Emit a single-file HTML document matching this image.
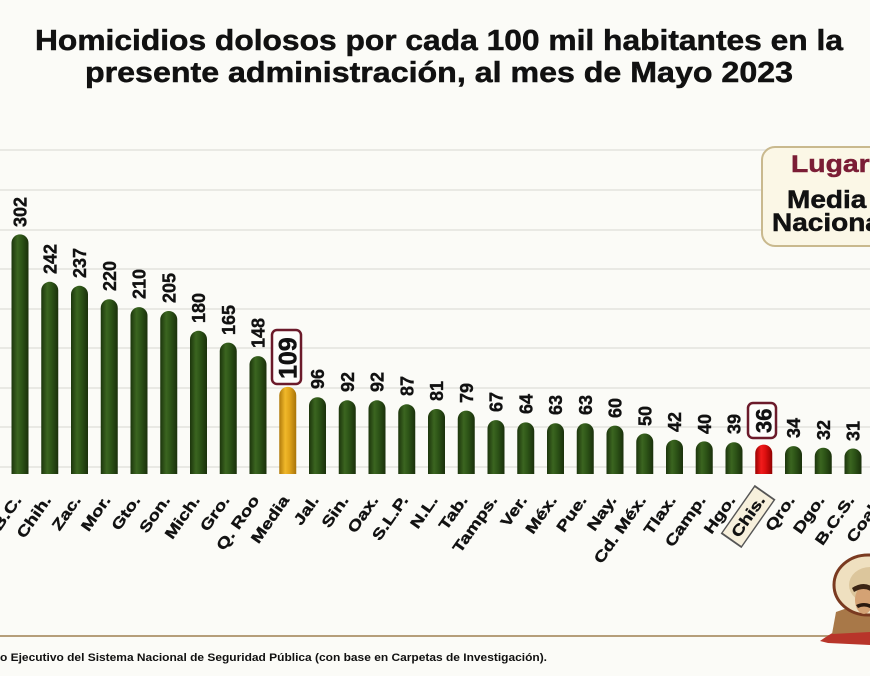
<!DOCTYPE html>
<html>
<head>
<meta charset="utf-8">
<style>
html,body{margin:0;padding:0;background:#fbfbf7;}
svg{display:block;}
text{font-family:"Liberation Sans",sans-serif;font-weight:bold;}
</style>
</head>
<body>
<svg width="870" height="676" viewBox="0 0 870 676" xmlns="http://www.w3.org/2000/svg">
<defs>
<linearGradient id="gG" x1="0" y1="0" x2="1" y2="0">
<stop offset="0" stop-color="#1c350c"/>
<stop offset="0.35" stop-color="#3b6520"/>
<stop offset="0.6" stop-color="#2d5417"/>
<stop offset="1" stop-color="#1a300b"/>
</linearGradient>
<linearGradient id="gY" x1="0" y1="0" x2="1" y2="0">
<stop offset="0" stop-color="#b07a0c"/>
<stop offset="0.35" stop-color="#f0b82a"/>
<stop offset="0.6" stop-color="#e0a41b"/>
<stop offset="1" stop-color="#a8740a"/>
</linearGradient>
<linearGradient id="gR" x1="0" y1="0" x2="1" y2="0">
<stop offset="0" stop-color="#9a0000"/>
<stop offset="0.35" stop-color="#f21c1c"/>
<stop offset="0.6" stop-color="#dc0f0f"/>
<stop offset="1" stop-color="#900000"/>
</linearGradient>
<clipPath id="cb"><rect x="0" y="0" width="870" height="474"/></clipPath>
</defs>
<rect width="870" height="676" fill="#fbfbf7"/>

<!-- title -->
<g fill="#111" stroke="#111" stroke-width="0.5">
<text x="35" y="50" font-size="29" textLength="808" lengthAdjust="spacingAndGlyphs">Homicidios dolosos por cada 100 mil habitantes en la</text>
<text x="85" y="82" font-size="29" textLength="708" lengthAdjust="spacingAndGlyphs">presente administración, al mes de Mayo 2023</text>
</g>

<!-- gridlines -->
<g stroke="#e9e9e4" stroke-width="2">
<line x1="0" y1="150" x2="870" y2="150"/>
<line x1="0" y1="190" x2="870" y2="190"/>
<line x1="0" y1="230" x2="870" y2="230"/>
<line x1="0" y1="269" x2="870" y2="269"/>
<line x1="0" y1="309" x2="870" y2="309"/>
<line x1="0" y1="348" x2="870" y2="348"/>
<line x1="0" y1="388" x2="870" y2="388"/>
<line x1="0" y1="427" x2="870" y2="427"/>
<line x1="0" y1="467" x2="870" y2="467"/>
</g>

<!-- legend -->
<rect x="762" y="147" width="130" height="99" rx="13" fill="#fbf7e6" stroke="#c9b98e" stroke-width="2"/>
<text transform="translate(791,172) scale(1.18,1)" font-size="24" fill="#7b1d35" stroke="#7b1d35" stroke-width="0.5">Lugar</text>
<text transform="translate(787,208) scale(1.12,1)" font-size="25" fill="#111" stroke="#111" stroke-width="0.5">Media</text>
<text transform="translate(772,231) scale(1.12,1)" font-size="25" fill="#111" stroke="#111" stroke-width="0.5">Nacional</text>

<!-- bars -->
<g clip-path="url(#cb)">
<rect x="11.5" y="234.4" width="17" height="250" rx="8.5" fill="url(#gG)"/>
<rect x="41.25" y="281.8" width="17" height="200" rx="8.5" fill="url(#gG)"/>
<rect x="71" y="285.8" width="17" height="200" rx="8.5" fill="url(#gG)"/>
<rect x="100.75" y="299.2" width="17" height="190" rx="8.5" fill="url(#gG)"/>
<rect x="130.5" y="307.1" width="17" height="180" rx="8.5" fill="url(#gG)"/>
<rect x="160.25" y="311" width="17" height="180" rx="8.5" fill="url(#gG)"/>
<rect x="190" y="330.8" width="17" height="160" rx="8.5" fill="url(#gG)"/>
<rect x="219.75" y="342.6" width="17" height="150" rx="8.5" fill="url(#gG)"/>
<rect x="249.5" y="356.1" width="17" height="130" rx="8.5" fill="url(#gG)"/>
<rect x="279.25" y="386.9" width="17" height="100" rx="8.5" fill="url(#gY)"/>
<rect x="309" y="397.2" width="17" height="90" rx="8.5" fill="url(#gG)"/>
<rect x="338.75" y="400.3" width="17" height="90" rx="8.5" fill="url(#gG)"/>
<rect x="368.5" y="400.3" width="17" height="90" rx="8.5" fill="url(#gG)"/>
<rect x="398.25" y="404.3" width="17" height="80" rx="8.5" fill="url(#gG)"/>
<rect x="428" y="409" width="17" height="80" rx="8.5" fill="url(#gG)"/>
<rect x="457.75" y="410.6" width="17" height="80" rx="8.5" fill="url(#gG)"/>
<rect x="487.5" y="420.1" width="17" height="70" rx="8.5" fill="url(#gG)"/>
<rect x="517.25" y="422.4" width="17" height="70" rx="8.5" fill="url(#gG)"/>
<rect x="547" y="423.2" width="17" height="70" rx="8.5" fill="url(#gG)"/>
<rect x="576.75" y="423.2" width="17" height="70" rx="8.5" fill="url(#gG)"/>
<rect x="606.5" y="425.6" width="17" height="70" rx="8.5" fill="url(#gG)"/>
<rect x="636.25" y="433.5" width="17" height="60" rx="8.5" fill="url(#gG)"/>
<rect x="666" y="439.8" width="17" height="60" rx="8.5" fill="url(#gG)"/>
<rect x="695.75" y="441.4" width="17" height="60" rx="8.5" fill="url(#gG)"/>
<rect x="725.5" y="442.2" width="17" height="60" rx="8.5" fill="url(#gG)"/>
<rect x="755.25" y="444.6" width="17" height="60" rx="8.5" fill="url(#gR)"/>
<rect x="785" y="446.1" width="17" height="60" rx="8.5" fill="url(#gG)"/>
<rect x="814.75" y="447.7" width="17" height="60" rx="8.5" fill="url(#gG)"/>
<rect x="844.5" y="448.5" width="17" height="60" rx="8.5" fill="url(#gG)"/>
</g>

<!-- value labels -->
<g font-size="18" fill="#111" stroke="#111" stroke-width="0.4">
<text transform="translate(26.5,227) rotate(-90)">302</text>
<text transform="translate(56.25,274) rotate(-90)">242</text>
<text transform="translate(86,278) rotate(-90)">237</text>
<text transform="translate(115.75,291) rotate(-90)">220</text>
<text transform="translate(145.5,299) rotate(-90)">210</text>
<text transform="translate(175.25,303) rotate(-90)">205</text>
<text transform="translate(205,323) rotate(-90)">180</text>
<text transform="translate(234.75,335) rotate(-90)">165</text>
<text transform="translate(264.5,348) rotate(-90)">148</text>
<text transform="translate(324,389) rotate(-90)">96</text>
<text transform="translate(353.75,392) rotate(-90)">92</text>
<text transform="translate(383.5,392) rotate(-90)">92</text>
<text transform="translate(413.25,396) rotate(-90)">87</text>
<text transform="translate(443,401) rotate(-90)">81</text>
<text transform="translate(472.75,403) rotate(-90)">79</text>
<text transform="translate(502.5,412) rotate(-90)">67</text>
<text transform="translate(532.25,414) rotate(-90)">64</text>
<text transform="translate(562,415) rotate(-90)">63</text>
<text transform="translate(591.75,415) rotate(-90)">63</text>
<text transform="translate(621.5,418) rotate(-90)">60</text>
<text transform="translate(651.25,426) rotate(-90)">50</text>
<text transform="translate(681,432) rotate(-90)">42</text>
<text transform="translate(710.75,434) rotate(-90)">40</text>
<text transform="translate(740.5,434) rotate(-90)">39</text>
<text transform="translate(800,438) rotate(-90)">34</text>
<text transform="translate(829.75,440) rotate(-90)">32</text>
<text transform="translate(859.5,441) rotate(-90)">31</text>
</g>

<!-- highlighted labels -->
<rect x="272" y="330" width="29" height="54" rx="5" fill="#fdfdfb" stroke="#6b1a2a" stroke-width="2.5"/>
<text transform="translate(296.5,379) rotate(-90)" font-size="25" fill="#111" stroke="#111" stroke-width="0.5">109</text>
<rect x="748" y="403" width="28" height="35" rx="5" fill="#fdfdfb" stroke="#6b1a2a" stroke-width="2.5"/>
<text transform="translate(771.5,433) rotate(-90)" font-size="22" fill="#111" stroke="#111" stroke-width="0.5">36</text>

<!-- x-axis labels -->
<g font-size="15" fill="#111" stroke="#111" stroke-width="0.35" text-anchor="end">
<text transform="translate(22,500) rotate(-55) scale(1.28,1)">B.C.</text>
<text transform="translate(51.75,500) rotate(-55) scale(1.28,1)">Chih.</text>
<text transform="translate(81.5,500) rotate(-55) scale(1.28,1)">Zac.</text>
<text transform="translate(111.25,500) rotate(-55) scale(1.28,1)">Mor.</text>
<text transform="translate(141,500) rotate(-55) scale(1.28,1)">Gto.</text>
<text transform="translate(170.75,500) rotate(-55) scale(1.28,1)">Son.</text>
<text transform="translate(200.5,500) rotate(-55) scale(1.28,1)">Mich.</text>
<text transform="translate(230.25,500) rotate(-55) scale(1.28,1)">Gro.</text>
<text transform="translate(260,500) rotate(-55) scale(1.28,1)">Q. Roo</text>
<text transform="translate(289.75,500) rotate(-55) scale(1.28,1)">Media</text>
<text transform="translate(319.5,500) rotate(-55) scale(1.28,1)">Jal.</text>
<text transform="translate(349.25,500) rotate(-55) scale(1.28,1)">Sin.</text>
<text transform="translate(379,500) rotate(-55) scale(1.28,1)">Oax.</text>
<text transform="translate(408.75,500) rotate(-55) scale(1.28,1)">S.L.P.</text>
<text transform="translate(438.5,500) rotate(-55) scale(1.28,1)">N.L.</text>
<text transform="translate(468.25,500) rotate(-55) scale(1.28,1)">Tab.</text>
<text transform="translate(498,500) rotate(-55) scale(1.28,1)">Tamps.</text>
<text transform="translate(527.75,500) rotate(-55) scale(1.28,1)">Ver.</text>
<text transform="translate(557.5,500) rotate(-55) scale(1.28,1)">Méx.</text>
<text transform="translate(587.25,500) rotate(-55) scale(1.28,1)">Pue.</text>
<text transform="translate(617,500) rotate(-55) scale(1.28,1)">Nay.</text>
<text transform="translate(646.75,500) rotate(-55) scale(1.28,1)">Cd. Méx.</text>
<text transform="translate(676.5,500) rotate(-55) scale(1.28,1)">Tlax.</text>
<text transform="translate(706.25,500) rotate(-55) scale(1.28,1)">Camp.</text>
<text transform="translate(736,500) rotate(-55) scale(1.28,1)">Hgo.</text>
<g transform="translate(765.75,500) rotate(-55) scale(1.28,1)">
<rect x="-41" y="-17" width="45" height="24" fill="#f7f0dc" stroke="#555" stroke-width="1.4"/>
<text>Chis.</text>
</g>
<text transform="translate(795.5,500) rotate(-55) scale(1.28,1)">Qro.</text>
<text transform="translate(825.25,500) rotate(-55) scale(1.28,1)">Dgo.</text>
<text transform="translate(855,500) rotate(-55) scale(1.28,1)">B.C.S.</text>
<text transform="translate(884.75,500) rotate(-55) scale(1.28,1)">Coah.</text>
</g>

<!-- bottom line -->
<line x1="0" y1="636" x2="835" y2="636" stroke="#b59e7a" stroke-width="2"/>

<!-- figure -->
<g>
<path d="M820,641 C835,630 850,624 870,620 L870,645 L828,643 Z" fill="#b8352a"/>
<path d="M836,612 L870,600 L870,632 L832,634 Z" fill="#a87848"/>
<ellipse cx="868" cy="585" rx="34" ry="30" fill="#efe0c0" stroke="#7a3a20" stroke-width="3"/>
<ellipse cx="870" cy="585" rx="21" ry="18" fill="#dcc69c"/>
<ellipse cx="864" cy="600" rx="9" ry="14" fill="#d4a274"/>
<path d="M856,605 Q864,601 872,605 L870,608 Q864,605 858,608 Z" fill="#2a1a10"/>
<path d="M852,588 Q864,580 874,588 L872,592 Q864,586 854,592 Z" fill="#3a2414"/>
</g>

<!-- footer -->
<text x="0" y="661" font-size="11" fill="#111" textLength="547" lengthAdjust="spacingAndGlyphs">o Ejecutivo del Sistema Nacional de Seguridad Pública (con base en Carpetas de Investigación).</text>
</svg>
</body>
</html>
